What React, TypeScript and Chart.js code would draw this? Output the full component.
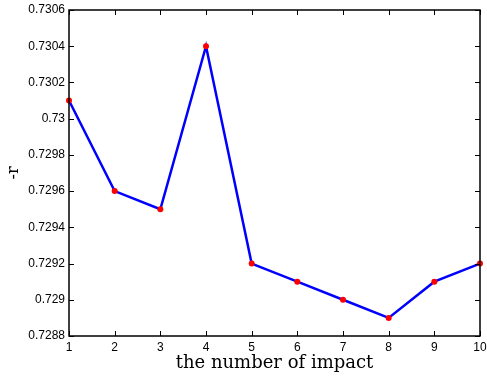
import React, { useEffect, useRef } from "react";
import { Chart, registerables } from "chart.js";

Chart.register(...registerables);

const impacts = [1, 2, 3, 4, 5, 6, 7, 8, 9, 10];
const rValues = [0.7301, 0.7296, 0.7295, 0.7304, 0.7292, 0.7291, 0.729, 0.7289, 0.7291, 0.7292];
const yTicks = [0.7288, 0.729, 0.7292, 0.7294, 0.7296, 0.7298, 0.73, 0.7302, 0.7304, 0.7306];
const xTicks = [1, 2, 3, 4, 5, 6, 7, 8, 9, 10];

const fmt = (v: number) => Number(Number(v).toFixed(4)).toString();

const boxPlugin = {
  id: "matlabBox",
  afterDraw(chart: any) {
    const { ctx, chartArea } = chart;
    const { left, right, top, bottom } = chartArea;
    const xs = chart.scales.x;
    const ys = chart.scales.y;
    ctx.save();
    ctx.strokeStyle = "#000";
    ctx.lineWidth = 1;
    const L = 5;
    ctx.beginPath();
    xTicks.forEach((t) => {
      const px = Math.round(xs.getPixelForValue(t)) + 0.5;
      ctx.moveTo(px, bottom);
      ctx.lineTo(px, bottom - L);
      ctx.moveTo(px, top);
      ctx.lineTo(px, top + L);
    });
    yTicks.forEach((t) => {
      const py = Math.round(ys.getPixelForValue(t)) + 0.5;
      ctx.moveTo(left, py);
      ctx.lineTo(left + L, py);
      ctx.moveTo(right, py);
      ctx.lineTo(right - L, py);
    });
    ctx.stroke();
    ctx.lineWidth = 1.5;
    ctx.strokeRect(left, top, right - left, bottom - top);
    ctx.restore();
  },
};

export default function App() {
  const ref = useRef<HTMLCanvasElement | null>(null);
  useEffect(() => {
    document.body.style.margin = "0";
    const canvas = ref.current!;
    const chart = new Chart(canvas, {
      type: "line",
      data: {
        datasets: [
          {
            data: impacts.map((x, i) => ({ x, y: rValues[i] })),
            borderColor: "#0000ff",
            borderWidth: 2.5,
            pointBackgroundColor: "#ff0000",
            pointBorderColor: "#ff0000",
            pointRadius: 3,
            pointBorderWidth: 0,
            tension: 0,
            fill: false,
            clip: false,
          },
        ],
      },
      options: {
        animation: false,
        responsive: false,
        maintainAspectRatio: false,
        layout: { padding: { top: 10, right: 7, left: 0, bottom: 0 } },
        plugins: { legend: { display: false }, tooltip: { enabled: false } },
        scales: {
          x: {
            type: "linear",
            min: 1,
            max: 10,
            grid: { display: false, drawTicks: false },
            border: { display: false },
            afterBuildTicks: (s: any) => {
              s.ticks = xTicks.map((v) => ({ value: v }));
            },
            afterFit: (s: any) => {
              s.height = 42;
              s.paddingLeft = 0;
              s.paddingRight = 0;
            },
            ticks: {
              padding: 4,
              color: "#000",
              font: { family: "Liberation Sans", size: 12 },
              maxRotation: 0,
              callback: (v: any) => String(v),
            },
            title: {
              display: true,
              text: "the number of impact",
              color: "#000",
              font: { family: "DejaVu Serif", size: 18 },
              padding: { top: 0, bottom: 4 },
            },
          },
          y: {
            type: "linear",
            min: 0.7288,
            max: 0.7306,
            grid: { display: false, drawTicks: false },
            border: { display: false },
            afterBuildTicks: (s: any) => {
              s.ticks = yTicks.map((v) => ({ value: v }));
            },
            afterFit: (s: any) => {
              s.width = 69;
              s.paddingTop = 0;
              s.paddingBottom = 0;
            },
            ticks: {
              padding: 4,
              color: "#000",
              font: { family: "Liberation Sans", size: 12 },
              callback: (v: any) => fmt(v),
            },
            title: {
              display: true,
              text: "-r",
              color: "#000",
              font: { family: "DejaVu Serif", size: 16 },
              padding: { top: 4, bottom: 0 },
            },
          },
        },
      },
      plugins: [boxPlugin],
    });
    return () => chart.destroy();
  }, []);
  return (
    <div style={{ position: "absolute", left: 0, top: 0, width: 487, height: 378, background: "#fff" }}>
      <canvas ref={ref} width={487} height={378} style={{ width: 487, height: 378 }} />
    </div>
  );
}
